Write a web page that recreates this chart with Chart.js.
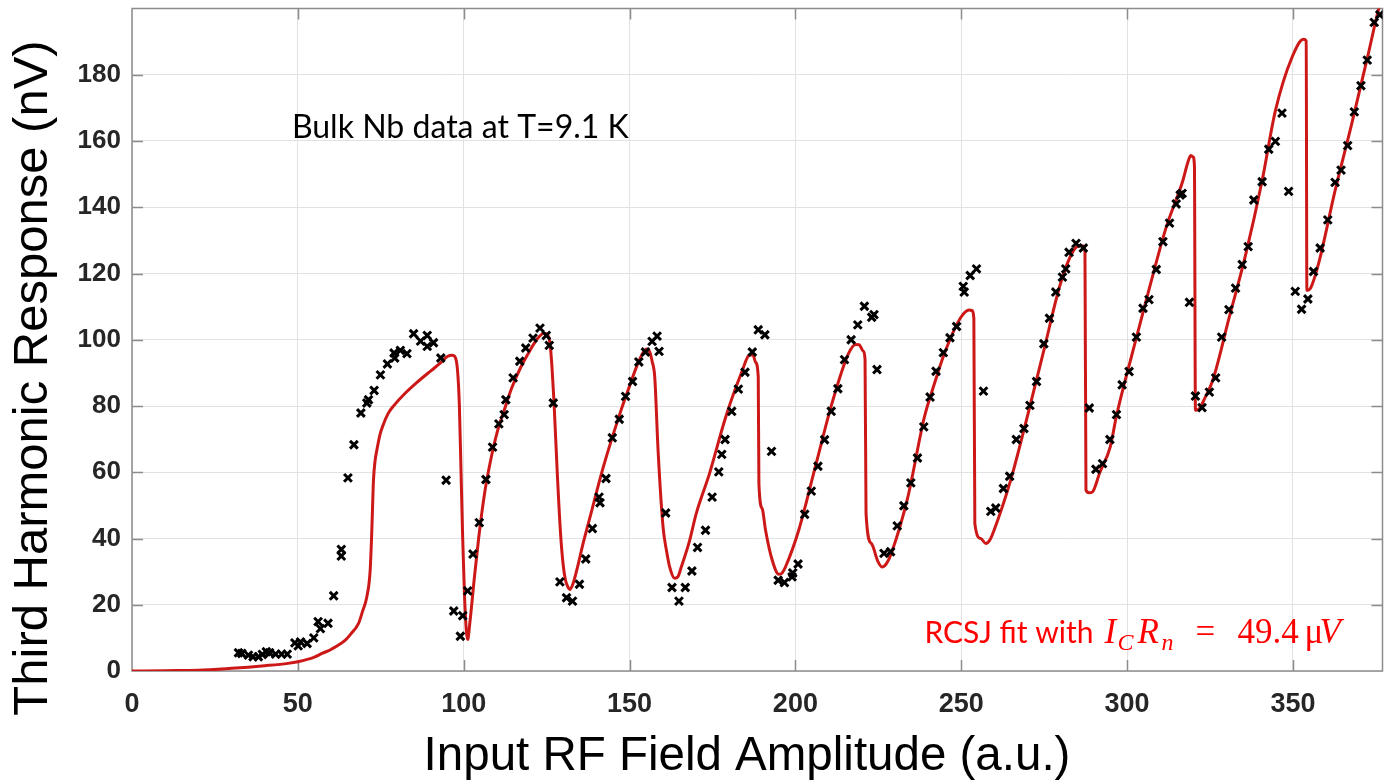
<!DOCTYPE html>
<html>
<head>
<meta charset="utf-8">
<script src="https://cdn.jsdelivr.net/npm/chart.js@4.4.1/dist/chart.umd.min.js"></script>
<style>
html,body{margin:0;padding:0;background:#fff;}
#wrap{width:1391px;height:784px;position:relative;}
</style>
</head>
<body>
<div id="wrap"><canvas id="c" width="1391" height="784"></canvas></div>
<script>
// ---- measured data (black crosses) ----
const dataX = [32.1,33.1,35.1,36.5,38.1,39.3,40.5,41.5,43.3,45.1,46.8,49.1,50.1,50.8,52.8,54.8,56.1,56.8,59.1,60.8,
  63.1,63.1,65.1,66.9,69.0,70.8,71.3,73.0,74.9,77.0,79.0,79.2,80.9,82.9,84.9,87.0,89.0,89.0,90.9,93.1,
  94.7,97.0,99.0,99.7,101.2,102.8,104.7,106.7,108.7,110.6,112.2,112.7,114.9,116.9,118.7,120.9,123.0,124.9,125.8,127.0,
  129.0,131.0,132.8,134.9,136.8,138.8,140.8,141.1,142.9,144.8,146.9,148.8,150.9,152.8,154.8,156.8,158.3,158.9,160.9,162.8,
  164.9,166.8,168.8,170.5,172.9,174.9,176.9,177.8,178.8,180.8,182.8,184.8,187.0,188.8,190.8,192.8,194.8,196.7,199.0,199.2,
  200.8,202.8,204.8,206.8,208.8,210.8,212.8,214.8,216.8,218.8,220.8,223.0,223.7,224.6,226.7,228.7,230.7,232.7,234.8,236.8,
  238.7,240.6,242.4,244.6,246.6,248.6,250.6,250.9,252.7,254.6,256.7,258.9,260.4,262.7,264.6,266.6,268.9,270.7,272.7,274.9,
  276.6,278.5,280.5,281.5,282.5,284.6,286.8,288.6,290.6,292.6,294.8,296.8,298.5,300.6,302.8,304.8,306.6,308.8,310.8,312.8,
  314.8,316.0,316.6,318.8,320.6,322.6,324.8,326.7,328.5,330.7,332.7,334.7,336.5,338.2,340.7,342.7,344.7,346.7,348.7,350.7,
  352.6,354.5,356.2,358.2,360.5,362.7,364.5,366.5,368.5,370.5,372.4,374.5,376.2];
const dataY = [5.5,5.3,4.8,4.3,4.3,5.0,5.8,5.5,5.1,5.1,5.1,8.5,7.6,8.8,8.3,10.0,14.9,12.8,14.4,22.7,
  36.7,34.7,58.3,68.3,77.9,80.9,81.9,84.7,89.4,92.7,96.0,94.5,96.8,95.8,101.8,99.6,101.3,98.0,99.1,94.5,
  57.6,18.1,10.5,16.7,24.2,35.3,44.8,57.8,67.6,74.6,77.4,81.9,88.5,93.5,97.5,100.5,103.5,101.3,98.3,80.9,
  26.9,22.1,21.1,26.2,33.8,43.0,52.5,50.8,58.1,70.4,76.0,82.9,87.4,93.3,96.3,99.5,101.1,96.5,47.7,25.2,
  21.1,25.2,30.2,37.3,42.5,52.5,60.1,65.4,69.9,78.4,85.1,90.2,96.3,103.0,101.5,66.3,27.4,26.7,28.4,29.6,
  32.3,47.3,54.3,61.8,69.8,78.4,85.2,94.0,100.0,104.5,110.1,106.8,107.6,91.0,35.5,36.0,43.8,49.9,56.8,64.3,
  73.7,82.7,90.5,96.1,100.6,104.0,116.1,114.4,119.4,121.4,84.5,48.2,49.2,55.1,58.8,69.9,73.2,80.2,87.4,98.8,
  106.5,114.4,118.9,121.4,126.4,129.1,127.7,79.4,60.9,62.6,69.9,77.4,86.4,90.4,100.8,109.5,112.1,121.2,129.6,135.2,
  141.0,143.7,144.2,111.3,83.0,79.5,84.2,88.5,100.8,109.1,115.6,122.7,128.1,142.2,147.7,157.5,159.9,168.4,144.8,114.6,
  109.2,112.3,120.6,127.7,136.2,147.5,151.2,158.6,168.8,176.7,184.4,195.8,198.1];

// ---- RCSJ fit curve (red) ----
const fitX = [0,10,20,30,40,47,50,55,57.3,60,64.3,66,68.3,69.5,70.8,71.8,72.3,72.8,73.3,73.8,
  74.8,75.8,77.2,79,82.2,86,90.2,93,95.2,96.5,97.5,98.2,98.7,99.2,99.7,100.2,100.8,101.2,101.8,103.2,
  104.5,106.2,108,110.2,112.2,114.5,117.2,120,122.2,124.2,125.3,126.0,126.6,127.2,128.2,129.2,130.0,130.7,131.5,132.0,
  133.0,134.1,136,138.1,142.1,147.1,150,152.1,154.0,155.2,156.2,156.8,157.6,158.6,160.1,161.2,162.1,163.6,164.6,165.6,
  168,170.1,174.1,179.0,184.0,186.0,187.2,188.0,188.8,189.0,190,191.0,193.0,195.0,196.0,197.0,201.0,206.0,211.0,216.0,
  218.2,219.2,220.5,221.0,221.3,222.9,224.9,226.1,227.5,228.9,233.9,238.9,242,244.9,249.9,252.4,253.2,253.8,254.1,255.9,
  257.4,258.6,259.9,264.9,269.9,274.9,279.9,283.8,285.8,286.8,287.3,287.6,288.6,289.5,291.8,294.9,296.8,301.8,306.8,311.8,
  316.8,318.3,319.2,319.9,320.3,320.6,321.8,323.5,325.8,330.8,335.8,340.7,344.7,349.7,353.2,354.0,354.2,355.2,357.7,362.7,
  367.7,372.7,375.7,377.5];
const fitY = [0,0.1,0.2,0.8,1.6,2.3,2.8,4.2,5.3,6.5,9.3,11.2,14.4,18,22.4,30.4,42.5,57.6,63.6,66.6,
  71.5,74.5,77.7,80.2,83.7,87.2,90.7,93,95.0,95.3,94.6,90,80,60,40,24,12,9.5,14,28,
  40,53,63,72.5,78.7,85.5,91.7,96.8,100.3,102.0,101.5,99.0,92,81.7,60,41.5,32,27.4,25.2,24.6,
  26.5,30.5,38.5,46.5,61.6,77.7,86,91.8,96.0,97.2,96.0,93.5,88.7,66.6,43.5,36,31.4,28.0,28.5,31.4,
  39,47.5,59.6,76.7,90.7,95.3,95.5,93.2,88.7,56.6,49,42.5,33.5,29.2,29.6,31.4,42.5,61.6,80.7,95.8,
  98.6,98.5,96.5,94,47.5,38.5,33.0,31.4,32.5,35.5,52.5,76.7,87,95.8,106.8,109.0,108.8,106.5,44.5,40.0,
  38.5,39.5,42.5,57.6,76.7,96.8,116.9,126.9,128.4,128.3,126.5,54.6,53.8,54.0,60.0,67.6,77.0,96.8,115.9,134.0,
  148.0,153.5,155.6,155.2,152.5,78.7,79.2,82.5,87.7,106.8,125.9,148.0,169.1,185.2,190.7,190.2,114.9,115.4,122.9,145.0,
  165.1,186.2,199.3,205];

// ---- axes ----
const xTicks = [0,50,100,150,200,250,300,350];
const yTicks = [0,20,40,60,80,100,120,140,160,180];
const xRange = [0, 377];
const yRange = [0, 200];
const xTitle = 'Input RF Field Amplitude (a.u.)';
const yTitle = 'Third Harmonic Response (nV)';
const noteData = 'Bulk Nb data at T=9.1 K';
const noteFitPrefix = 'RCSJ fit with';
const noteFitParts = [
  {t:'I', italic:true, dx:180, sub:false},
  {t:'C', italic:true, dx:193, sub:true},
  {t:'R', italic:true, dx:213, sub:false},
  {t:'n', italic:true, dx:237, sub:true},
  {t:'=', italic:false, dx:271, sub:false},
  {t:'49.4', italic:false, dx:313, sub:false},
  {t:'\u03bc', italic:false, dx:380, sub:false},
  {t:'V', italic:true, dx:395, sub:false}
];

const scatterPts = dataX.map((x,i)=>({x:x, y:dataY[i]}));
const fitPts = fitX.map((x,i)=>({x:x, y:fitY[i]}));

const TICK_COLOR = '#262626';
const FRAME_COLOR = '#8c8c8c';
const SANS = '"Liberation Sans", Arial, sans-serif';

const bgPlugin = {
  id:'bg',
  beforeDraw(chart){
    const ctx = chart.ctx;
    ctx.save(); ctx.fillStyle='#fff'; ctx.fillRect(0,0,chart.width,chart.height); ctx.restore();
  }
};

const framePlugin = {
  id:'frame',
  beforeDatasetsDraw(chart){
    const {ctx, chartArea:a, scales} = chart;
    const L = 11;
    ctx.save();
    ctx.strokeStyle = FRAME_COLOR;
    ctx.lineWidth = 1.5;
    ctx.strokeRect(a.left, a.top, a.right-a.left, a.bottom-a.top);
    ctx.beginPath();
    xTicks.forEach(v=>{
      const p = Math.round(scales.x.getPixelForValue(v))+0.5;
      if (p <= a.left+1) return;
      ctx.moveTo(p, a.bottom); ctx.lineTo(p, a.bottom-L);
      ctx.moveTo(p, a.top); ctx.lineTo(p, a.top+L);
    });
    yTicks.forEach(v=>{
      const p = Math.round(scales.y.getPixelForValue(v))+0.5;
      if (p >= a.bottom-1) return;
      ctx.moveTo(a.left, p); ctx.lineTo(a.left+L, p);
      ctx.moveTo(a.right, p); ctx.lineTo(a.right-L, p);
    });
    ctx.stroke();
    ctx.restore();
  }
};

const titlePlugin = {
  id:'titles',
  afterDraw(chart){
    const ctx = chart.ctx;
    ctx.save();
    ctx.fillStyle = '#000';
    ctx.textAlign = 'center';
    ctx.textBaseline = 'middle';
    ctx.font = '47.5px ' + SANS;
    ctx.fillText(xTitle, 747, 757);
    ctx.translate(33, 378);
    ctx.rotate(-Math.PI/2);
    ctx.font = '49px ' + SANS;
    ctx.fillText(yTitle, 0, 0);
    ctx.restore();
  }
};

function fitFont(ctx, text, family, weight, targetW){
  ctx.font = weight + ' 100px ' + family;
  const w = ctx.measureText(text).width;
  return 100 * targetW / w;
}

const notePlugin = {
  id:'notes',
  afterDatasetsDraw(chart){
    const {ctx, scales} = chart;
    ctx.save();
    ctx.textBaseline = 'alphabetic';
    ctx.textAlign = 'left';
    // data note
    const x1 = scales.x.getPixelForValue(48.2);
    const y1 = scales.y.getPixelForValue(161);
    const s1 = fitFont(ctx, noteData, 'Lato', 'normal', 337);
    ctx.font = s1.toFixed(2)+'px Lato';
    ctx.fillStyle = '#000';
    ctx.fillText(noteData, x1, y1);
    // fit note
    const x2 = scales.x.getPixelForValue(238.9);
    const y2 = scales.y.getPixelForValue(8.4);
    const s2 = fitFont(ctx, noteFitPrefix, 'Lato', 'normal', 169);
    ctx.font = s2.toFixed(2)+'px Lato';
    ctx.fillStyle = '#ff0000';
    ctx.fillText(noteFitPrefix, x2, y2);
    noteFitParts.forEach(p=>{
      const size = p.sub ? 24 : 35;
      ctx.font = (p.italic?'italic ':'') + size + 'px "Liberation Serif"';
      ctx.fillText(p.t, x2 + p.dx, y2 + (p.sub ? 7 : 0));
    });
    ctx.restore();
  }
};

const chart = new Chart(document.getElementById('c'), {
  data:{
    datasets:[
      {
        type:'scatter',
        label:'Bulk Nb data',
        data:scatterPts,
        pointStyle:'crossRot',
        pointRadius:5.5,
        pointHoverRadius:5.5,
        borderColor:'#000',
        backgroundColor:'#000',
        pointBorderWidth:3,
        order:1
      },
      {
        type:'line',
        label:'RCSJ fit',
        data:fitPts,
        borderColor:'rgb(205,24,24)',
        borderWidth:3,
        pointRadius:0,
        fill:false,
        cubicInterpolationMode:'monotone',
        order:2
      }
    ]
  },
  options:{
    responsive:false,
    animation:false,
    devicePixelRatio:1,
    layout:{padding:{top:8,right:1,left:0,bottom:0}},
    plugins:{legend:{display:false}, tooltip:{enabled:false}},
    scales:{
      x:{
        type:'linear',
        min:xRange[0], max:xRange[1],
        afterBuildTicks(s){ s.ticks = xTicks.map(v=>({value:v})); },
        afterFit(s){ s.height = 113; s.paddingLeft = 0; s.paddingRight = 0; },
        ticks:{
          font:{family:SANS, size:27, weight:'bold'},
          color:TICK_COLOR,
          padding:17,
          maxRotation:0, autoSkip:false
        },
        grid:{color:'#e2e2e2', lineWidth:1, drawTicks:false},
        border:{display:false},
        title:{display:false}
      },
      y:{
        type:'linear',
        min:yRange[0], max:yRange[1],
        afterBuildTicks(s){ s.ticks = yTicks.map(v=>({value:v})); },
        afterFit(s){ s.width = 132; s.paddingTop = 0; s.paddingBottom = 0; },
        ticks:{
          font:{family:SANS, size:26, weight:'bold'},
          color:TICK_COLOR,
          padding:11,
          autoSkip:false
        },
        grid:{color:'#e2e2e2', lineWidth:1, drawTicks:false},
        border:{display:false},
        title:{display:false}
      }
    }
  },
  plugins:[bgPlugin, framePlugin, notePlugin, titlePlugin]
});
</script>
</body>
</html>
